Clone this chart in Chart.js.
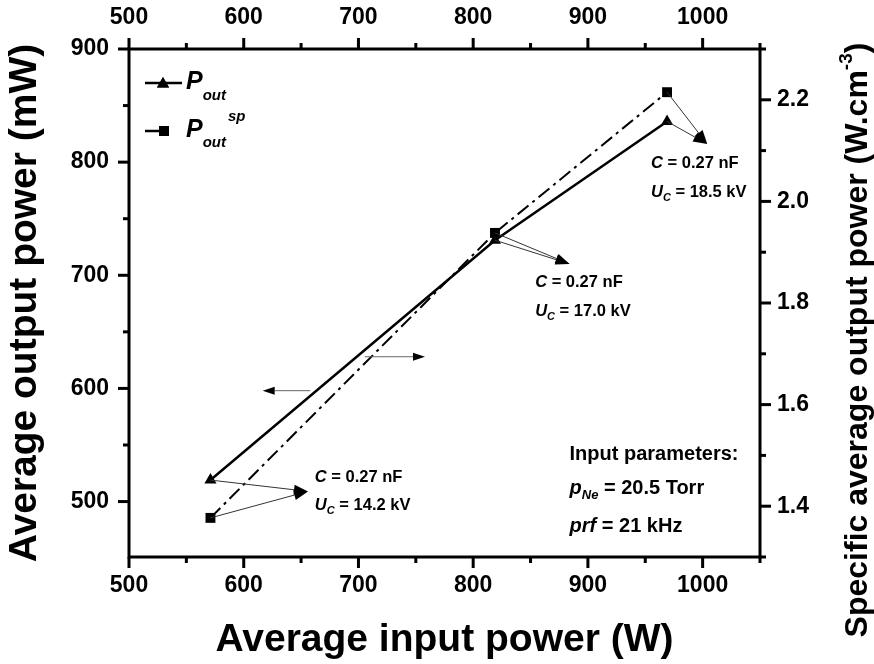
<!DOCTYPE html>
<html>
<head>
<meta charset="utf-8">
<title>Average output power vs average input power</title>
<script src="https://cdn.jsdelivr.net/npm/chart.js@4.4.1/dist/chart.umd.min.js"></script>
<style>
  html, body { margin: 0; padding: 0; background: #fff; }
  #chart { display: block; }
</style>
</head>
<body>
<canvas id="chart" width="874" height="664"></canvas>
<script>
// Average input power (W) of the three measurements
const inputPower = [571, 819, 969];
// Average output power P_out (mW), left axis
const outputPower = [519, 731, 836];
// Specific average output power P_out^sp (W.cm-3), right axis
const specificPower = [1.377, 1.938, 2.215];
// Charging voltage U_C (kV) per point, storage capacitance C (nF)
const chargeVoltage = ['14.2', '17.0', '18.5'];
const capacitance = '0.27';
// Discharge parameters
const neonPressure = '20.5';
const repetitionRate = '21';

// Tick labels
const xTicks = [500, 600, 700, 800, 900, 1000];
const yTicks = [500, 600, 700, 800, 900];
const y2Ticks = [1.4, 1.6, 1.8, 2.0, 2.2];

const FONT = '"Liberation Sans", Arial, sans-serif';
Chart.defaults.font.family = FONT;
Chart.defaults.color = '#000';

function setFont(ctx, size, italic) {
    ctx.font = (italic ? 'italic ' : '') + 'bold ' + size + 'px ' + FONT;
}

// Draws a run of text pieces (sub/superscripts, italics) from x on baseline y
function drawRich(ctx, x, y, pieces) {
    pieces.forEach(p => {
        setFont(ctx, p.size, p.italic);
        ctx.fillText(p.text, x, y + (p.dy || 0));
        x += ctx.measureText(p.text).width;
    });
    return x;
}

function richWidth(ctx, pieces) {
    let w = 0;
    pieces.forEach(p => {
        setFont(ctx, p.size, p.italic);
        w += ctx.measureText(p.text).width;
    });
    return w;
}

// Thin line with a filled arrow head at (x2, y2)
function drawArrow(ctx, x1, y1, x2, y2, len, half) {
    const a = Math.atan2(y2 - y1, x2 - x1);
    const bx = x2 - len * Math.cos(a);
    const by = y2 - len * Math.sin(a);
    ctx.beginPath();
    ctx.moveTo(x1, y1);
    ctx.lineTo(bx, by);
    ctx.stroke();
    ctx.beginPath();
    ctx.moveTo(x2, y2);
    ctx.lineTo(bx + half * Math.sin(a), by - half * Math.cos(a));
    ctx.lineTo(bx - half * Math.sin(a), by + half * Math.cos(a));
    ctx.closePath();
    ctx.fill();
}

// Frame, minor/major ticks, legend, annotations and right axis title
const decorations = {
    id: 'decorations',
    afterDraw(chart) {
        const ctx = chart.ctx;
        const area = chart.chartArea;
        const { x, y, y2 } = chart.scales;
        ctx.save();
        ctx.fillStyle = '#000';
        ctx.strokeStyle = '#000';

        // Frame
        ctx.lineWidth = 3;
        ctx.strokeRect(area.left, area.top, area.right - area.left, area.bottom - area.top);

        // Ticks (outside), major every label, minor in between
        ctx.lineWidth = 3;
        ctx.lineCap = 'butt';
        for (let v = 500; v <= 1050; v += 50) {
            const p = x.getPixelForValue(v);
            const len = v % 100 === 0 ? 11 : 6;
            ctx.beginPath();
            ctx.moveTo(p, area.bottom); ctx.lineTo(p, area.bottom + len);
            ctx.moveTo(p, area.top); ctx.lineTo(p, area.top - len);
            ctx.stroke();
        }
        for (let v = 500; v <= 900; v += 50) {
            const p = y.getPixelForValue(v);
            const len = v % 100 === 0 ? 11 : 6;
            ctx.beginPath();
            ctx.moveTo(area.left, p); ctx.lineTo(area.left - len, p);
            ctx.stroke();
        }
        for (let k = 13; k <= 23; k++) {
            const p = y2.getPixelForValue(k / 10);
            const len = k % 2 === 0 ? 11 : 6;
            ctx.beginPath();
            ctx.moveTo(area.right, p); ctx.lineTo(area.right + len, p);
            ctx.stroke();
        }

        // Legend
        ctx.lineWidth = 2.5;
        ctx.beginPath(); ctx.moveTo(145, 83); ctx.lineTo(182, 83); ctx.stroke();
        Chart.helpers.drawPoint(ctx, { pointStyle: 'triangle', radius: 7, rotation: 0 }, 163, 84);
        ctx.fill();
        ctx.beginPath(); ctx.moveTo(145, 131); ctx.lineTo(164, 131); ctx.stroke();
        Chart.helpers.drawPoint(ctx, { pointStyle: 'rect', radius: 7, rotation: 0 }, 164, 131);
        ctx.fill();
        drawRich(ctx, 186, 89, [
            { text: 'P', size: 25, italic: true },
            { text: 'out', size: 15, italic: true, dy: 11 }
        ]);
        drawRich(ctx, 186, 137, [
            { text: 'P', size: 25, italic: true },
            { text: 'out', size: 15, italic: true, dy: 10 }
        ]);
        drawRich(ctx, 228, 121, [{ text: 'sp', size: 15, italic: true }]);

        // Arrows from the measured points to their labels
        const px = v => x.getPixelForValue(v);
        const py = v => y.getPixelForValue(v);
        const tri = chart.getDatasetMeta(0).data;
        const sq = chart.getDatasetMeta(1).data;
        const tips = [[656, 509], [884, 710], [1004, 816]];
        ctx.lineWidth = 1;
        ctx.strokeStyle = '#333';
        tips.forEach((t, i) => {
            drawArrow(ctx, tri[i].x, tri[i].y, px(t[0]), py(t[1]), 14, 5);
            drawArrow(ctx, sq[i].x, sq[i].y, px(t[0]), py(t[1]), 14, 5);
        });
        // Arrows telling which axis each curve belongs to
        ctx.strokeStyle = '#666';
        drawArrow(ctx, px(658), py(598), px(616.5), py(598), 12, 4);
        drawArrow(ctx, px(705.5), py(628), px(758), py(628), 12, 4);

        // Point labels
        ctx.fillStyle = '#000';
        const labelAt = [[662, 517.3, 492.5], [854, 689.6, 663.6], [955, 794.4, 769.2]];
        labelAt.forEach((l, i) => {
            drawRich(ctx, px(l[0]), py(l[1]), [
                { text: 'C', size: 16.5, italic: true },
                { text: ' = ' + capacitance + ' nF', size: 16.5 }
            ]);
            drawRich(ctx, px(l[0]), py(l[2]), [
                { text: 'U', size: 16.5, italic: true },
                { text: 'C', size: 11, italic: true, dy: 4 },
                { text: ' = ' + chargeVoltage[i] + ' kV', size: 16.5 }
            ]);
        });

        // Input parameters block
        const left = px(884);
        drawRich(ctx, left, py(536.4), [{ text: 'Input parameters:', size: 20 }]);
        drawRich(ctx, left, py(506.7), [
            { text: 'p', size: 20, italic: true },
            { text: 'Ne', size: 13, italic: true, dy: 5 },
            { text: ' = ' + neonPressure + ' Torr', size: 20 }
        ]);
        drawRich(ctx, left, py(473.1), [
            { text: 'prf', size: 20, italic: true },
            { text: ' = ' + repetitionRate + ' kHz', size: 20 }
        ]);

        // Right axis title, reading upwards, with superscript
        const title = [
            { text: 'Specific average output power (W.cm', size: 32 },
            { text: '-3', size: 19, dy: -15 },
            { text: ')', size: 32 }
        ];
        ctx.translate(867, 340);
        ctx.rotate(-Math.PI / 2);
        drawRich(ctx, -richWidth(ctx, title) / 2, 0, title);
        ctx.restore();
    }
};

const chartCanvas = document.querySelector('#chart');
new Chart(chartCanvas, {
    type: 'line',
    data: {
        datasets: [
            {
                label: 'P_out',
                data: inputPower.map((v, i) => ({ x: v, y: outputPower[i] })),
                yAxisID: 'y',
                order: 1,
                borderColor: '#000',
                backgroundColor: '#000',
                borderWidth: 2.5,
                pointStyle: 'triangle',
                pointRadius: 7,
                pointBorderWidth: 0
            },
            {
                label: 'P_out^sp',
                data: inputPower.map((v, i) => ({ x: v, y: specificPower[i] })),
                yAxisID: 'y2',
                order: 0,
                borderColor: '#000',
                backgroundColor: '#000',
                borderWidth: 2,
                borderDash: [14, 5, 3, 5],
                pointStyle: 'rect',
                pointRadius: 7,
                pointBorderWidth: 0
            }
        ]
    },
    options: {
        responsive: false,
        animation: false,
        layout: { padding: 0 },
        plugins: {
            legend: { display: false },
            tooltip: { enabled: false }
        },
        scales: {
            x: {
                type: 'linear',
                position: 'bottom',
                min: 500,
                max: 1050,
                afterBuildTicks: axis => { axis.ticks = xTicks.map(v => ({ value: v })); },
                afterFit: axis => { axis.height = 107; },
                grid: { drawOnChartArea: false, drawTicks: false },
                border: { display: false },
                ticks: {
                    padding: 15,
                    maxRotation: 0,
                    font: { size: 23, weight: 'bold' },
                    callback: v => String(v)
                },
                title: {
                    display: true,
                    text: 'Average input power (W)',
                    font: { size: 39, weight: 'bold' },
                    padding: { top: 0, bottom: 0 }
                }
            },
            x2: {
                type: 'linear',
                position: 'top',
                min: 500,
                max: 1050,
                afterBuildTicks: axis => { axis.ticks = xTicks.map(v => ({ value: v })); },
                afterFit: axis => { axis.height = 49; },
                grid: { drawOnChartArea: false, drawTicks: false },
                border: { display: false },
                ticks: {
                    padding: 18,
                    maxRotation: 0,
                    font: { size: 23, weight: 'bold' },
                    callback: v => String(v)
                }
            },
            y: {
                type: 'linear',
                position: 'left',
                min: 451,
                max: 900,
                afterBuildTicks: axis => { axis.ticks = yTicks.map(v => ({ value: v })); },
                afterFit: axis => { axis.width = 129; },
                grid: { drawOnChartArea: false, drawTicks: false },
                border: { display: false },
                ticks: {
                    padding: 20,
                    font: { size: 23, weight: 'bold' },
                    callback: v => String(v)
                },
                title: {
                    display: true,
                    text: 'Average output power (mW)',
                    font: { size: 39, weight: 'bold' },
                    padding: { top: 2, bottom: 0 }
                }
            },
            y2: {
                type: 'linear',
                position: 'right',
                min: 1.3,
                max: 2.3,
                afterBuildTicks: axis => { axis.ticks = y2Ticks.map(v => ({ value: v })); },
                afterFit: axis => { axis.width = 114; },
                grid: { drawOnChartArea: false, drawTicks: false },
                border: { display: false },
                ticks: {
                    padding: 17,
                    font: { size: 23, weight: 'bold' },
                    callback: v => v.toFixed(1)
                }
            }
        }
    },
    plugins: [decorations]
});
</script>
</body>
</html>
